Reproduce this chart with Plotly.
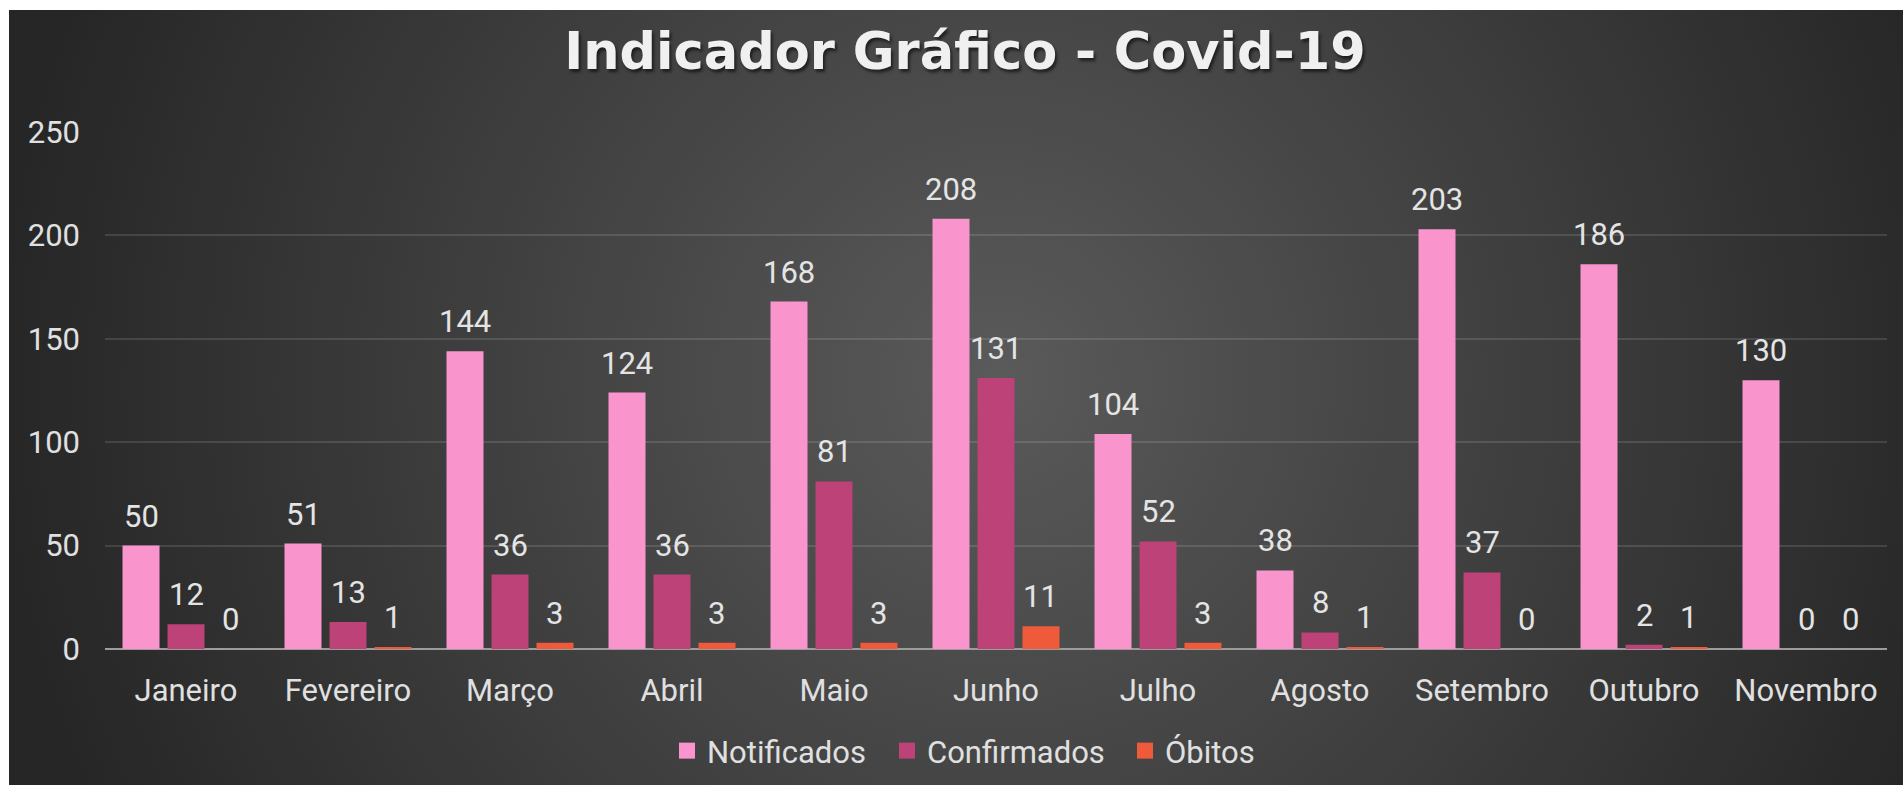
import base64
import plotly.graph_objects as go

meses = ["Janeiro", "Fevereiro", "Março", "Abril", "Maio", "Junho",
         "Julho", "Agosto", "Setembro", "Outubro", "Novembro"]
notificados = [50, 51, 144, 124, 168, 208, 104, 38, 203, 186, 130]
confirmados = [12, 13, 36, 36, 81, 131, 52, 8, 37, 2, 0]
obitos = [0, 1, 3, 3, 3, 11, 3, 1, 0, 1, 0]
series_names = ["Notificados", "Confirmados", "Óbitos"]
series_colors = ["#f994cd", "#bc4277", "#ef5a3a"]
y_ticks = [0, 50, 100, 150, 200, 250]

W, H = 1903, 785
L, R, T, B = 105, 16, 132, 136
PW, PH = W - L - R, H - T - B
BARGAP = 0.1667
GROUPGAP = 0.178
legend_left_px = [667, 887, 1125]
legend_ids = ["legend", "legend2", "legend3"]

# background panel (radial gradient), drawn as an inline SVG image
panel_x0, panel_y0 = 9, 10
pw, ph = W - panel_x0, H - panel_y0
svg = (
    f'<svg xmlns="http://www.w3.org/2000/svg" width="{pw}" height="{ph}" viewBox="0 0 {pw} {ph}">'
    '<defs><radialGradient id="g" gradientUnits="userSpaceOnUse" cx="990" cy="370" r="1000">'
    '<stop offset="0" stop-color="#5a5a5a"/><stop offset="0.4" stop-color="#454545"/>'
    '<stop offset="1" stop-color="#262626"/></radialGradient></defs>'
    f'<rect width="{pw}" height="{ph}" fill="url(#g)"/></svg>'
)
src = "data:image/svg+xml;base64," + base64.b64encode(svg.encode()).decode()

fig = go.Figure()
all_series = [notificados, confirmados, obitos]
for name, vals, col, lid in zip(series_names, all_series, series_colors, legend_ids):
    fig.add_trace(go.Bar(x=meses, y=vals, name=name, marker=dict(color=col, line=dict(width=0)),
                         showlegend=False, hoverinfo="x+y"))
    fig.add_trace(go.Scatter(x=[None], y=[None], mode="markers", name=name, legend=lid,
                             marker=dict(symbol="square", size=16, color=col)))

# data labels
slot = PW / len(meses) * (1 - BARGAP) / 3
annotations = []
for i, vals in enumerate(all_series):
    for m, v in zip(meses, vals):
        annotations.append(dict(x=m, y=v, xref="x", yref="y", text=str(v), showarrow=False,
                                xshift=(i - 1) * slot, yanchor="bottom", yshift=9,
                                font=dict(family="Roboto", size=31, color="#e4e4e4")))

legend_common = dict(orientation="h", xanchor="left", y=(H - B - 751) / PH, yanchor="middle",
                     bgcolor="rgba(0,0,0,0)",
                     font=dict(family="Roboto", size=31, color="#e0e0e0"))
legends = {lid: dict(legend_common, x=(px - L) / PW) for lid, px in zip(legend_ids, legend_left_px)}

fig.update_layout(
    width=W, height=H,
    margin=dict(l=L, r=R, t=T, b=B, pad=0, autoexpand=False),
    paper_bgcolor="white",
    plot_bgcolor="rgba(0,0,0,0)",
    barmode="group", bargap=BARGAP, bargroupgap=GROUPGAP,
    title=dict(text="Indicador Gráfico - Covid-19", x=965 / W, xanchor="center",
               xref="container", yref="container", y=1 - 51 / H, yanchor="middle",
               font=dict(family="DejaVu Sans", size=51, color="#f0f0f0", weight="bold",
                         shadow="2px 3px 3px rgba(0,0,0,0.55)")),
    font=dict(family="Roboto", size=31, color="#e0e0e0"),
    xaxis=dict(showgrid=False, showline=False, ticks="", ticklabelstandoff=20, automargin=False,
               tickfont=dict(family="Roboto", size=31, color="#e0e0e0")),
    yaxis=dict(range=[0, 250], tickvals=y_ticks, showgrid=True, automargin=False,
               gridcolor="rgba(255,255,255,0.12)", gridwidth=2,
               zeroline=True, zerolinecolor="#9c9c9c", zerolinewidth=2,
               ticks="", ticklabelstandoff=24,
               tickfont=dict(family="Roboto", size=31, color="#e0e0e0")),
    annotations=annotations,
    images=[dict(source=src, xref="paper", yref="paper",
                 x=(panel_x0 - L) / PW, y=(H - B - panel_y0) / PH,
                 sizex=pw / PW, sizey=ph / PH, sizing="stretch",
                 xanchor="left", yanchor="top", layer="below")],
    **legends,
)

fig.write_html("out.html", config={"displayModeBar": False},
               post_script="document.body.style.margin='0';document.body.style.overflow='hidden';")
